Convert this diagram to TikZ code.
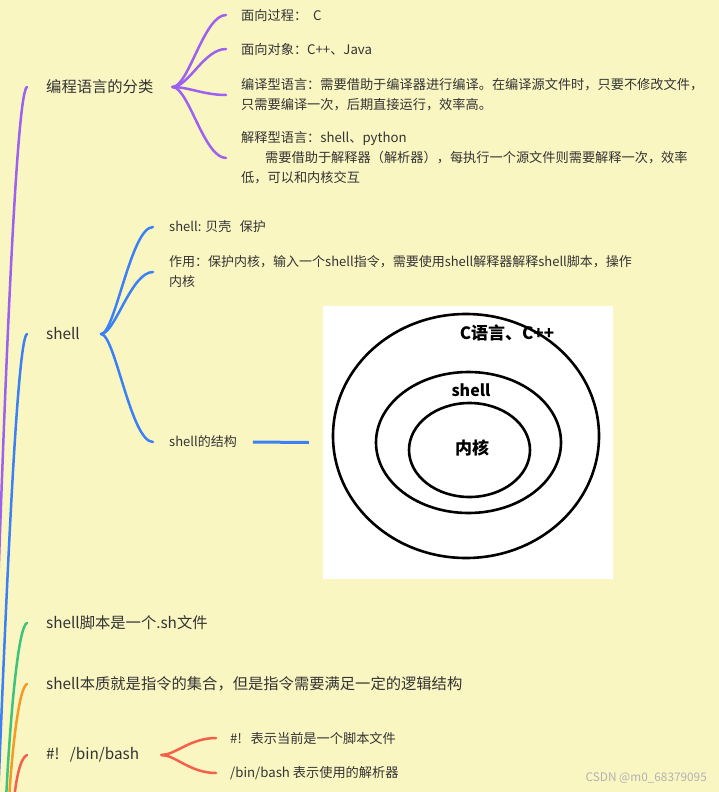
\documentclass[tikz,border=0pt]{standalone}
\usepackage{fontspec}
\setmainfont{Noto Sans CJK SC}
\definecolor{bg}{RGB}{250,246,194}
\definecolor{txt}{RGB}{51,51,51}
\definecolor{pur}{RGB}{157,96,240}
\definecolor{blu}{RGB}{59,128,246}
\definecolor{grn}{RGB}{60,196,126}
\definecolor{org}{RGB}{247,154,35}
\definecolor{rd}{RGB}{245,96,74}
\tikzset{
  lbl/.style={anchor=west, inner sep=0pt, text=txt, align=left},
  big/.style={lbl, font=\fontsize{15.3}{20}\selectfont},
  small/.style={lbl, font=\fontsize{13.2}{20}\selectfont},
  mid/.style={lbl, font=\fontsize{13}{20}\selectfont},
  br/.style={line width=2.5pt, line cap=round},
  ring/.style={line width=2.6pt, black},
  ringlbl/.style={inner sep=0pt, text=black, font=\bfseries\fontsize{17}{20}\selectfont},
}
\begin{document}
\begin{tikzpicture}[x=1pt,y=-1pt]
\fill[bg] (0,0) rectangle (719,792);
\useasboundingbox (0,0) rectangle (719,792);
\clip (0,0) rectangle (719,792);

% ---- level 1 nodes
\node[big] (lang) at (46,87) {编程语言的分类};
\node[big] (sh) at (46,334) {shell};
\node[big] (s1) at (46,623) {shell脚本是一个.sh文件};
\node[big] (s2) at (46,684) {shell本质就是指令的集合，但是指令需要满足一定的逻辑结构};
\node[big] (s3) at (46,755) {\#!\ \ \ /bin/bash};

% ---- trunk
\coordinate (eP) at (-3,620);
\coordinate (eB) at (-2,800);
\coordinate (eG) at (6,800);
\coordinate (eO) at (9,800);
\coordinate (eR) at (14,800);
\draw[br,pur] ([xshift=-19pt]lang.west) .. controls +(-10,4) and +(9,-270) .. (eP);
\draw[br,blu] ([xshift=-19pt]sh.west) .. controls +(-10,4) and +(8,-200) .. (eB);
\draw[br,grn] ([xshift=-19pt]s1.west) .. controls +(-9,3) and +(4,-80) .. (eG);
\draw[br,org] ([xshift=-19pt]s2.west) .. controls +(-8,3) and +(3,-50) .. (eO);
\draw[br,rd]  ([xshift=-19pt]s3.west) .. controls +(-7,3) and +(2,-20) .. (eR);

% ---- 编程语言的分类
\node[small] (a1) at (241,15) {面向过程：\ \ C};
\node[small] (a2) at (241,49) {面向对象：C++、Java};
\node[small] (a3) at (241,95) {编译型语言：需要借助于编译器进行编译。在编译源文件时，只要不修改文件，\\只需要编译一次，后期直接运行，效率高。};
\node[small] (a4) at (241,158) {解释型语言：shell、python\\\hspace*{24pt}需要借助于解释器（解析器），每执行一个源文件则需要解释一次，效率\\低，可以和内核交互};
\coordinate (pr) at ([xshift=19pt]lang.east);
\foreach \n in {a1,a2,a3,a4}
  \draw[br,pur] (pr) .. controls +(16,0) and +(-22,0) .. ([xshift=-15pt]\n.west);

% ---- shell
\node[mid] (b1) at (169,227) {shell: 贝壳\ \ \ 保护};
\node[mid] (b2) at (169,272) {作用：保护内核，输入一个shell指令，需要使用shell解释器解释shell脚本，操作\\内核};
\node[mid] (b3) at (169,442) {shell的结构};
\coordinate (br0) at ([xshift=21pt]sh.east);
\foreach \n in {b1,b2,b3}
  \draw[br,blu] (br0) .. controls +(14,0) and +(-22,0) .. ([xshift=-16pt]\n.west);

\node[fill=white, minimum width=290pt, minimum height=273pt, inner sep=0pt] (img) at (468,442.5) {};
\draw[blu,line width=3pt] ([xshift=16pt]b3.east) -- ([xshift=-14pt]img.west);

\node[ringlbl] (t1) at (507,333) {C语言、C++};
\node[ringlbl,font=\bfseries\fontsize{16}{20}\selectfont] (t2) at (471,390) {shell};
\node[ringlbl] (t3) at (472,448) {内核};
\draw[ring] (466,436) ellipse [x radius=133pt, y radius=122pt];
\draw[ring] (468.5,442.5) ellipse [x radius=92.5pt, y radius=70.5pt];
\draw[ring] (469.5,450) ellipse [x radius=60.5pt, y radius=47pt];

% ---- #! /bin/bash
\node[small] (c1) at (230,738) {\#!\ \ \ 表示当前是一个脚本文件};
\node[small] (c2) at (230,773) {/bin/bash 表示使用的解析器};
\coordinate (rr) at ([xshift=22pt]s3.east);
\foreach \n in {c1,c2}
  \draw[br,rd] (rr) .. controls +(14,0) and +(-26,0) .. ([xshift=-14pt]\n.west);

\node[anchor=east, inner sep=0pt, text=black!30, font=\fontsize{11.8}{12}\selectfont] (wm) at (707,778) {CSDN @m0\_68379095};
\end{tikzpicture}
\end{document}
